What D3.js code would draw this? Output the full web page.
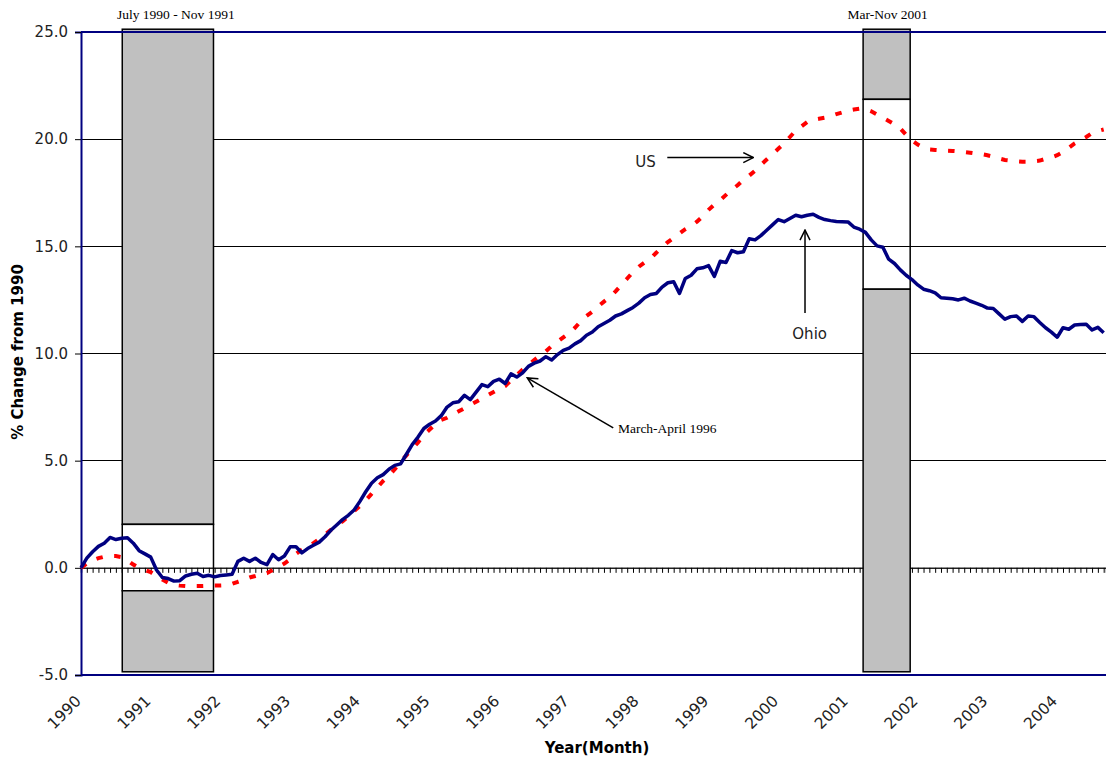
<!DOCTYPE html>
<html>
<head>
<meta charset="utf-8">
<script src="https://cdn.jsdelivr.net/npm/d3@7"></script>
<style>
  html, body { margin: 0; padding: 0; background: #fff; }
  svg { display: block; }
</style>
</head>
<body>
<svg id="chart" width="1106" height="757"></svg>
<script>
// ---------------- DATA ----------------
const startYear = 1990;
const yearLabels = ["1990","1991","1992","1993","1994","1995","1996","1997","1998","1999","2000","2001","2002","2003","2004"];
const yTicks = [-5, 0, 5, 10, 15, 20, 25];

// Monthly % change from 1990, Jan 1990 onward
const ohio = [
  0.0, 0.45, 0.75, 1.0, 1.15, 1.42, 1.32, 1.38, 1.4, 1.15,
  0.8, 0.65, 0.5, -0.1, -0.45, -0.5, -0.62, -0.6, -0.38, -0.3,
  -0.25, -0.4, -0.35, -0.42, -0.36, -0.33, -0.3, 0.3, 0.45, 0.3,
  0.45, 0.25, 0.15, 0.62, 0.38, 0.55, 0.98, 0.98, 0.7, 0.9,
  1.05, 1.2, 1.45, 1.75, 2.0, 2.25, 2.45, 2.7, 3.1, 3.55,
  3.95, 4.2, 4.35, 4.6, 4.78, 4.85, 5.3, 5.75, 6.1, 6.5,
  6.7, 6.85, 7.1, 7.5, 7.7, 7.75, 8.05, 7.85, 8.2, 8.55,
  8.45, 8.7, 8.8, 8.6, 9.05, 8.9, 9.1, 9.4, 9.55, 9.65,
  9.85, 9.7, 9.95, 10.15, 10.25, 10.45, 10.6, 10.85, 11.0, 11.25,
  11.4, 11.55, 11.75, 11.85, 12.0, 12.15, 12.35, 12.6, 12.75, 12.8,
  13.1, 13.3, 13.35, 12.8, 13.5, 13.65, 13.95, 14.0, 14.1, 13.6,
  14.3, 14.25, 14.8, 14.7, 14.75, 15.35, 15.3, 15.5, 15.75, 16.0,
  16.25, 16.15, 16.3, 16.45, 16.38, 16.45, 16.5, 16.35, 16.25, 16.2,
  16.16, 16.15, 16.14, 15.9, 15.8, 15.65, 15.3, 15.02, 14.96, 14.4,
  14.2, 13.9, 13.65, 13.45, 13.2, 13.0, 12.93, 12.83, 12.6, 12.58,
  12.55, 12.5, 12.58, 12.45, 12.35, 12.25, 12.12, 12.1, 11.85, 11.6,
  11.72, 11.75, 11.5, 11.75, 11.72, 11.45, 11.2, 11.0, 10.76, 11.2,
  11.13, 11.33, 11.35, 11.36, 11.1, 11.22, 10.97
];
const us = [
  0.0, 0.2, 0.35, 0.45, 0.52, 0.55, 0.55, 0.5, 0.35, 0.15,
  0.0, -0.1, -0.2, -0.38, -0.55, -0.7, -0.8, -0.83, -0.85, -0.85,
  -0.85, -0.85, -0.84, -0.83, -0.83, -0.82, -0.75, -0.65, -0.55, -0.45,
  -0.38, -0.3, -0.25, -0.1, 0.05, 0.2, 0.4, 0.65, 0.85, 1.0,
  1.15, 1.35, 1.55, 1.77, 1.97, 2.17, 2.4, 2.65, 2.88, 3.15,
  3.45, 3.75, 4.05, 4.3, 4.6, 4.95, 5.25, 5.55, 5.85, 6.2,
  6.45, 6.7, 6.9, 7.0, 7.15, 7.3, 7.45, 7.6, 7.75, 7.9,
  8.05, 8.2, 8.35, 8.48, 8.75, 9.0, 9.25, 9.45, 9.7, 9.9,
  10.1, 10.35, 10.55, 10.75, 10.95, 11.2, 11.5, 11.75, 11.95, 12.2,
  12.42, 12.62, 12.9, 13.2, 13.5, 13.8, 14.05, 14.25, 14.42, 14.7,
  14.95, 15.2, 15.4, 15.6, 15.8, 15.95, 16.15, 16.4, 16.7, 16.95,
  17.15, 17.4, 17.65, 17.85, 18.1, 18.3, 18.53, 18.8, 19.05, 19.3,
  19.55, 19.8, 20.1, 20.4, 20.6, 20.8, 20.9, 20.95, 21.0, 21.08,
  21.17, 21.25, 21.33, 21.38, 21.42, 21.4, 21.3, 21.15, 21.0, 20.85,
  20.7, 20.5, 20.2, 19.95, 19.75, 19.6, 19.52, 19.5, 19.48, 19.46,
  19.45, 19.43, 19.4, 19.37, 19.33, 19.3, 19.25, 19.18, 19.1, 19.03,
  19.0, 18.97, 18.95, 18.95, 18.97, 19.0, 19.08, 19.15, 19.25, 19.4,
  19.6, 19.8, 19.95, 20.1, 20.28, 20.38, 20.45
];

// Recession boxes (month index from Jan 1990, values on % axis)
const recessionLabels = ["July 1990 - Nov 1991", "Mar-Nov 2001"];
const recessionStart = [7.1, 134.6];
const recessionEnd = [22.8, 142.7];
const recessionTop = [25.13, 25.13];
const recessionOpenHigh = [2.03, 21.86];
const recessionOpenLow = [-1.07, 13.0];
const recessionBottom = [-4.85, -4.85];

// Annotations (month index, value)
const annUS = { text: "US", tx: 95.4, ty: 18.72, x1: 100.9, y1: 19.14, x2: 115.7, y2: 19.14 };
const annOhio = { text: "Ohio", tx: 125.4, ty: 10.68, x1: 124.6, y1: 11.89, x2: 124.6, y2: 15.76 };
const annMarch = { text: "March-April 1996", tx: 92.4, ty: 6.29, x1: 91.6, y1: 6.53, x2: 76.8, y2: 8.86 };

// ---------------- CHART ----------------
const svg = d3.select("#chart");
const pL = 81, pR = 1106, pT = 32, pB = 675;
const x = d3.scaleLinear().domain([0, 176.4]).range([pL, pR]);
const y = d3.scaleLinear().domain([-5, 25]).range([pB, pT]);

const sans = "'DejaVu Sans', Verdana, sans-serif";
const serif = "'Liberation Serif', 'Times New Roman', serif";

// gridlines
svg.append("g").selectAll("line").data(yTicks.filter(v => v > -5 && v < 25 && v !== 0))
  .join("line")
  .attr("x1", pL).attr("x2", pR)
  .attr("y1", d => y(d)).attr("y2", d => y(d))
  .attr("stroke", "#000").attr("stroke-width", 1).attr("shape-rendering", "crispEdges");

// zero (category) axis with monthly ticks
const monthTicks = d3.range(0, ohio.length + 1);
const xAxis = d3.axisBottom(x).tickValues(monthTicks).tickSize(5).tickFormat("");
const gx = svg.append("g").attr("transform", `translate(0,${y(0)})`).call(xAxis);
gx.select(".domain").attr("stroke", "#222").attr("stroke-width", 1.5);
gx.selectAll(".tick line").attr("stroke", "#000").attr("stroke-width", 1);

// recession boxes
recessionStart.forEach((s, i) => {
  const g = svg.append("g");
  const x0 = x(s), w = x(recessionEnd[i]) - x(s);
  g.append("rect").attr("x", x0).attr("y", y(recessionTop[i]))
    .attr("width", w).attr("height", y(recessionOpenHigh[i]) - y(recessionTop[i]))
    .attr("fill", "#c0c0c0").attr("stroke", "#000").attr("stroke-width", 1.5);
  g.append("rect").attr("x", x0).attr("y", y(recessionOpenHigh[i]))
    .attr("width", w).attr("height", y(recessionOpenLow[i]) - y(recessionOpenHigh[i]))
    .attr("fill", "none").attr("stroke", "#000").attr("stroke-width", 1.5);
  g.append("rect").attr("x", x0).attr("y", y(recessionOpenLow[i]))
    .attr("width", w).attr("height", y(recessionBottom[i]) - y(recessionOpenLow[i]))
    .attr("fill", "#c0c0c0").attr("stroke", "#000").attr("stroke-width", 1.5);
  svg.append("text").attr("x", i === 0 ? x0 + w / 2 + 8 : x0 + w / 2 + 1).attr("y", 19)
    .attr("text-anchor", "middle").attr("font-family", serif).attr("font-size", 13.5)
    .attr("fill", "#000").text(recessionLabels[i]);
});

// plot border (navy)
svg.append("line").attr("x1", pL).attr("x2", pR + 2).attr("y1", y(25)).attr("y2", y(25))
  .attr("stroke", "#000080").attr("stroke-width", 2);
svg.append("line").attr("x1", pL).attr("x2", pR + 2).attr("y1", y(-5)).attr("y2", y(-5))
  .attr("stroke", "#000080").attr("stroke-width", 2);

// y axis
const fmt = d3.format(".1f");
const yAxis = d3.axisLeft(y).tickValues(yTicks).tickSize(6).tickPadding(7)
  .tickFormat(d => fmt(d).replace("\u2212", "-"));
const gy = svg.append("g").attr("transform", `translate(${pL},0)`).call(yAxis);
gy.select(".domain").attr("stroke", "#000080").attr("stroke-width", 2);
gy.selectAll(".tick line").attr("stroke", "#000").attr("stroke-width", 1);
gy.selectAll(".tick text").attr("font-family", sans).attr("font-size", 15).attr("fill", "#222");

// year labels
svg.append("g").selectAll("text").data(yearLabels).join("text")
  .attr("transform", (d, i) => `translate(${x(i * 12) + 1},${pB + 27}) rotate(-45)`)
  .attr("text-anchor", "end")
  .attr("font-family", sans).attr("font-size", 15.5).attr("fill", "#222")
  .text(d => d);

// lines
const line = d3.line().x((d, i) => x(i)).y(d => y(d));
svg.append("path").datum(us).attr("d", line)
  .attr("fill", "none").attr("stroke", "#ff0000").attr("stroke-width", 4)
  .attr("stroke-dasharray", "6.5,11.5");
svg.append("path").datum(ohio).attr("d", line)
  .attr("fill", "none").attr("stroke", "#000080").attr("stroke-width", 3.5)
  .attr("stroke-linejoin", "round");

// arrows
const defs = svg.append("defs");
defs.append("marker").attr("id", "arr").attr("viewBox", "0 0 12 12")
  .attr("refX", 11).attr("refY", 6).attr("markerWidth", 12).attr("markerHeight", 12)
  .attr("markerUnits", "userSpaceOnUse").attr("orient", "auto")
  .append("path").attr("d", "M1,1 L11,6 L1,11").attr("fill", "none")
  .attr("stroke", "#000").attr("stroke-width", 1.5);

[annUS, annOhio, annMarch].forEach(a => {
  svg.append("line").attr("x1", x(a.x1)).attr("y1", y(a.y1))
    .attr("x2", x(a.x2)).attr("y2", y(a.y2))
    .attr("stroke", "#000").attr("stroke-width", 1.5).attr("marker-end", "url(#arr)");
});
svg.append("text").attr("x", x(annUS.tx)).attr("y", y(annUS.ty))
  .attr("font-family", sans).attr("font-size", 15).attr("fill", "#222").text(annUS.text);
svg.append("text").attr("x", x(annOhio.tx)).attr("y", y(annOhio.ty)).attr("text-anchor", "middle")
  .attr("font-family", sans).attr("font-size", 15).attr("fill", "#222").text(annOhio.text);
svg.append("text").attr("x", x(annMarch.tx)).attr("y", y(annMarch.ty))
  .attr("font-family", serif).attr("font-size", 13.5).attr("fill", "#000").text(annMarch.text);

// axis titles
svg.append("text").attr("x", 597).attr("y", 753).attr("text-anchor", "middle")
  .attr("font-family", sans).attr("font-size", 15).attr("font-weight", "bold").attr("fill", "#000")
  .text("Year(Month)");
svg.append("text").attr("transform", "translate(23,352) rotate(-90)").attr("text-anchor", "middle")
  .attr("font-family", sans).attr("font-size", 15).attr("font-weight", "bold").attr("fill", "#000")
  .text("% Change from 1990");
</script>
</body>
</html>
